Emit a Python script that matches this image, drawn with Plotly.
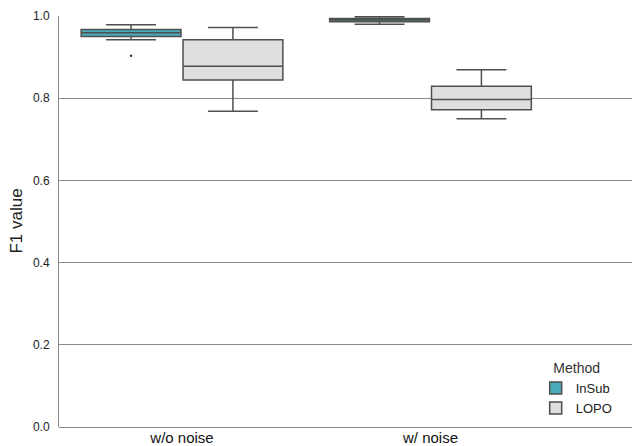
import plotly.graph_objects as go

categories = ["w/o noise", "w/ noise"]
methods = ["InSub", "LOPO"]

# box statistics per method, one value per category
insub_lower = [0.942, 0.980]
insub_q1 = [0.950, 0.986]
insub_median = [0.959, 0.990]
insub_q3 = [0.967, 0.994]
insub_upper = [0.979, 0.998]
insub_outliers = [[0.903], [0.990]]

lopo_lower = [0.768, 0.750]
lopo_q1 = [0.844, 0.772]
lopo_median = [0.878, 0.797]
lopo_q3 = [0.942, 0.829]
lopo_upper = [0.972, 0.869]

y_ticks = [0.0, 0.2, 0.4, 0.6, 0.8, 1.0]
y_title = "F1 value"

colors = {"InSub": "#4aaab9", "LOPO": "#dedede"}
edge = "#4f4f4f"

fig = go.Figure()
stats = {
    "InSub": (insub_lower, insub_q1, insub_median, insub_q3, insub_upper),
    "LOPO": (lopo_lower, lopo_q1, lopo_median, lopo_q3, lopo_upper),
}
for m in methods:
    lo, q1, med, q3, up = stats[m]
    kw = {}
    if m == "InSub":
        kw["y"] = insub_outliers
        kw["boxpoints"] = "outliers"
    else:
        kw["boxpoints"] = False
    fig.add_trace(go.Box(
        name=m,
        x=categories,
        q1=q1, median=med, q3=q3,
        lowerfence=lo, upperfence=up,
        fillcolor=colors[m],
        line=dict(color=edge, width=1.5),
        marker=dict(color="#333333", size=2.5),
        whiskerwidth=0.5,
        offsetgroup=m,
        showlegend=True,
        hoverinfo="skip",
        **kw,
    ))

fig.add_annotation(
    text=y_title, textangle=-90,
    xref="paper", yref="paper", x=-0.075, y=0.5,
    xanchor="center", yanchor="middle", showarrow=False,
    font=dict(size=17, color="#222222"),
)

fig.update_layout(
    width=632, height=446,
    margin=dict(l=59, r=0, t=16, b=19),
    paper_bgcolor="white",
    plot_bgcolor="white",
    boxmode="group",
    boxgap=0.18,
    boxgroupgap=0.02,
    showlegend=True,
    font=dict(family="Liberation Sans, Arial, sans-serif", color="#222222"),
    xaxis=dict(
        type="category",
        categoryorder="array", categoryarray=categories,
        range=[-0.495, 1.811],
        showgrid=False, zeroline=False,
        showline=False,
        automargin=False,
        tickfont=dict(size=15, color="#111111"),
        ticks="", ticklabelstandoff=0,
    ),
    yaxis=dict(
        range=[0, 1],
        tickvals=y_ticks,
        tickformat=".1f",
        automargin=False,
        showgrid=True, gridcolor="#8a8a8a", gridwidth=1,
        zeroline=True, zerolinecolor="#8a8a8a", zerolinewidth=1,
        showline=True, linecolor="#8a8a8a", linewidth=1,
        ticks="", ticklabelstandoff=6,
        tickfont=dict(size=12, color="#222222"),
    ),
    legend=dict(
        title=dict(text="Method", side="top center", font=dict(size=14, color="#333333")),
        x=0.975, xanchor="right",
        y=0.01, yanchor="bottom",
        bgcolor="rgba(255,255,255,0.9)",
        font=dict(size=13, color="#222222"),
        tracegroupgap=2,
    ),
)

fig.write_html(
    "out.html",
    config={"displayModeBar": False},
    post_script="document.body.style.margin='0';document.body.style.padding='0';document.body.style.overflow='hidden';",
)
